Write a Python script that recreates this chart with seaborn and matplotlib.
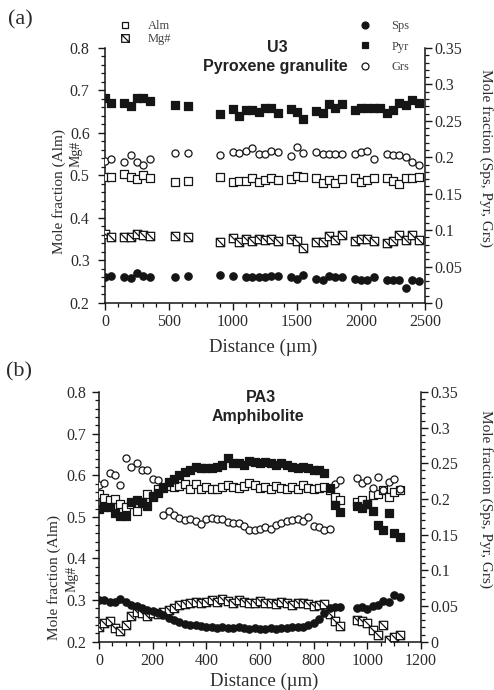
import numpy as np
import matplotlib
matplotlib.use("Agg")
import matplotlib.pyplot as plt
from matplotlib.path import Path
from matplotlib.markers import MarkerStyle
from matplotlib.lines import Line2D
from matplotlib.ticker import MultipleLocator, FuncFormatter
import seaborn as sns

nan = float("nan")

# ---------------- (a) U3 Pyroxene granulite ----------------
top_x = [0, 50, 150, 200, 250, 300, 350, 550, 650, 900, 1000, 1050, 1100, 1150,
         1200, 1250, 1300, 1350, 1450, 1500, 1550, 1650, 1700, 1750, 1800, 1850,
         1950, 2000, 2050, 2100, 2150, 2200, 2250, 2300, 2350, 2400, 2450]
top_alm = [0.497, 0.497, 0.503, 0.497, 0.491, 0.500, 0.493, 0.485, 0.487, 0.497,
           0.485, 0.487, 0.487, 0.493, 0.485, 0.489, 0.495, 0.489, 0.491, 0.499,
           0.497, 0.493, 0.483, 0.489, 0.482, 0.491, 0.493, 0.485, 0.489, 0.495,
           nan, 0.493, 0.487, 0.479, 0.493, 0.495, 0.497]
top_mg = [0.363, 0.355, 0.355, 0.356, 0.362, 0.360, 0.358, 0.358, 0.355, 0.343,
          0.353, 0.343, 0.350, 0.345, 0.350, 0.349, 0.350, 0.345, 0.350, 0.345,
          0.329, 0.343, 0.343, 0.358, 0.349, 0.360, 0.345, 0.350, 0.350, 0.346,
          nan, 0.341, 0.345, 0.360, 0.349, 0.360, 0.349]
top_pyr = [0.282, 0.274, 0.274, 0.271, 0.281, 0.281, 0.277, 0.272, 0.271, 0.259,
           0.266, 0.256, 0.265, 0.265, 0.262, 0.268, 0.268, 0.261, 0.266, 0.262,
           0.252, 0.263, 0.261, 0.273, 0.268, 0.273, 0.265, 0.267, 0.268, 0.268,
           0.268, 0.261, 0.265, 0.274, 0.272, 0.279, 0.275]
top_grs = [0.195, 0.198, 0.194, 0.203, 0.194, 0.190, 0.197, 0.206, 0.206, 0.203,
           0.207, 0.206, 0.209, 0.213, 0.205, 0.205, 0.209, 0.207, 0.202, 0.214,
           0.206, 0.207, 0.204, 0.204, 0.204, 0.205, 0.204, 0.207, 0.208, 0.197,
           nan, 0.204, 0.203, 0.203, 0.200, 0.194, 0.189]
top_sps = [0.035, 0.037, 0.036, 0.034, 0.041, 0.037, 0.036, 0.035, 0.037, 0.038,
           0.037, nan, 0.036, 0.036, 0.035, 0.036, 0.037, 0.037, 0.035, 0.033,
           0.038, 0.033, 0.032, 0.037, 0.035, 0.035, 0.033, 0.032, 0.032, 0.035,
           nan, 0.032, 0.031, 0.031, 0.021, 0.032, 0.030]

# ---------------- (b) PA3 Amphibolite ----------------
bot_x = [0, 20, 40, 60, 80, 100, 120, 140, 160, 180, 200, 220, 240, 260, 280, 300,
         320, 340, 360, 380, 400, 420, 440, 460, 480, 500, 520, 540, 560, 580, 600,
         620, 640, 660, 680, 700, 720, 740, 760, 780, 800, 820, 840, 860, 880, 900,
         960, 980, 1000, 1020, 1040, 1060, 1080, 1100, 1120]
bot_alm = [0.556, 0.546, 0.540, 0.542, 0.530, 0.524, 0.530, 0.514, 0.534, 0.556,
           0.550, 0.566, 0.570, 0.574, 0.572, 0.574, 0.578, 0.568, 0.578, 0.568,
           0.572, 0.568, 0.566, 0.572, 0.576, 0.572, 0.570, 0.574, 0.582, 0.576,
           0.570, 0.572, 0.568, 0.574, 0.570, 0.566, 0.572, 0.568, 0.576, 0.570,
           0.566, 0.570, 0.572, 0.564, 0.548, 0.540,
           0.536, 0.540, 0.532, 0.552, 0.556, 0.564, 0.548, 0.560, 0.564]
bot_mg = [0.235, 0.245, 0.250, 0.232, 0.225, 0.240, 0.262, 0.272, 0.268, 0.262,
          0.270, 0.266, 0.272, 0.276, 0.282, 0.288, 0.290, 0.292, 0.296, 0.292,
          0.296, 0.300, 0.296, 0.302, 0.298, 0.294, 0.300, 0.296, 0.292, 0.294,
          0.298, 0.292, 0.294, 0.290, 0.296, 0.292, 0.288, 0.292, 0.294, 0.290,
          0.286, 0.288, 0.290, 0.266, 0.250, 0.238,
          0.252, 0.250, 0.246, 0.228, 0.215, 0.240, 0.205, 0.212, 0.215]
bot_pyr = [0.186, 0.189, 0.189, 0.181, 0.176, 0.176, 0.196, 0.199, 0.196, 0.190,
           0.203, 0.209, 0.217, 0.224, 0.228, 0.234, 0.238, 0.241, 0.245, 0.243,
           0.243, 0.243, 0.245, 0.247, 0.257, 0.251, 0.250, 0.248, 0.253, 0.252,
           0.250, 0.252, 0.250, 0.248, 0.250, 0.247, 0.245, 0.243, 0.245, 0.243,
           0.240, 0.241, 0.236, 0.215, 0.192, 0.182,
           0.190, 0.188, 0.193, 0.183, 0.164, 0.157, 0.181, 0.152, 0.147]
bot_grs = [0.219, 0.223, 0.236, 0.233, 0.220, 0.257, 0.245, 0.250, 0.240, 0.240,
           0.228, 0.226, 0.178, 0.183, 0.177, 0.174, 0.171, 0.172, 0.169, 0.165,
           0.172, 0.173, 0.172, 0.172, 0.168, 0.167, 0.167, 0.162, 0.156, 0.156,
           0.158, 0.161, 0.158, 0.164, 0.166, 0.169, 0.171, 0.172, 0.169, 0.175,
           0.162, 0.161, 0.156, 0.158, 0.221, 0.226,
           0.229, 0.222, 0.226, 0.216, 0.231, 0.212, 0.224, 0.228, 0.214]
bot_sps = [0.058, 0.059, 0.055, 0.056, 0.060, 0.055, 0.052, 0.050, 0.047, 0.045,
           0.043, 0.040, 0.037, 0.033, 0.030, 0.027, 0.025, 0.024, 0.023, 0.022,
           0.020, 0.020, 0.019, 0.020, 0.019, 0.019, 0.020, 0.019, 0.018, 0.019,
           0.018, 0.018, 0.019, 0.018, 0.019, 0.019, 0.020, 0.020, 0.021, 0.024,
           0.026, 0.032, 0.040, 0.047, 0.049, 0.048,
           0.047, 0.048, 0.046, 0.050, 0.052, 0.057, 0.056, 0.066, 0.062]

left_ticks = [0.2, 0.3, 0.4, 0.5, 0.6, 0.7, 0.8]
right_ticks = [0, 0.05, 0.1, 0.15, 0.2, 0.25, 0.3, 0.35]

# ---------------- style ----------------
sns.set_style("ticks")
plt.rcParams["font.family"] = ["Liberation Serif", "DejaVu Serif"]
TXT = "#2b2b2b"
INK = "#151515"

# hatched square marker for Mg#
mg_path = Path([(-1, -1), (1, -1), (1, 1), (-1, 1), (-1, -1), (-1, 1), (1, -1)],
               [Path.MOVETO, Path.LINETO, Path.LINETO, Path.LINETO, Path.CLOSEPOLY,
                Path.MOVETO, Path.LINETO])
mg_marker = MarkerStyle(mg_path)

fig = plt.figure(figsize=(4.94, 6.90), dpi=100)
axA = fig.add_axes([0.2126, 0.5609, 0.6478, 0.3696])
axA2 = axA.twinx()
axB = fig.add_axes([0.2004, 0.0700, 0.6518, 0.3619])
axB2 = axB.twinx()


def draw(ax, ax2, x, alm, mg, pyr, grs, sps):
    kw = dict(ax=ax, legend=False, linewidth=0.9, zorder=3)
    sns.scatterplot(x=x, y=mg, marker=mg_marker, s=36, color="white",
                    edgecolor=INK, **kw)
    sns.scatterplot(x=x, y=alm, marker="s", s=26, color="white",
                    edgecolor=INK, **kw)
    kw2 = dict(ax=ax2, legend=False, linewidth=0.9, zorder=3)
    sns.scatterplot(x=x, y=grs, marker="o", s=26, color="white",
                    edgecolor=INK, **kw2)
    sns.scatterplot(x=x, y=pyr, marker="s", s=28, color=INK,
                    edgecolor=INK, **kw2)
    sns.scatterplot(x=x, y=sps, marker="o", s=28, color=INK,
                    edgecolor=INK, **kw2)


def style(ax, ax2, xmax, xmaj, xmin, ypad):
    ax.set_xlim(0, xmax)
    ax.set_ylim(0.2, 0.8)
    ax2.set_ylim(0, 0.35)
    ax.set_yticks(left_ticks)
    ax2.set_yticks(right_ticks)
    ax.xaxis.set_major_locator(MultipleLocator(xmaj))
    ax.xaxis.set_minor_locator(MultipleLocator(xmin))
    ax.yaxis.set_minor_locator(MultipleLocator(0.02))
    ax2.yaxis.set_minor_locator(MultipleLocator(0.01))
    ax.yaxis.set_major_formatter(FuncFormatter(lambda v, p: "%.1f" % v))
    ax2.yaxis.set_major_formatter(FuncFormatter(lambda v, p: "%g" % round(v, 3)))
    ax.xaxis.set_major_formatter(FuncFormatter(lambda v, p: "%d" % v))
    for a in (ax, ax2):
        a.set_xlabel("")
        a.set_ylabel("")
        a.spines["top"].set_visible(False)
        for s in a.spines.values():
            s.set_linewidth(1.1)
            s.set_color(INK)
        a.tick_params(which="major", direction="out", length=5, width=1.0,
                      color=INK, labelsize=11.5, labelcolor=TXT, pad=2)
        a.tick_params(which="minor", direction="out", length=3, width=0.9,
                      color=INK)
    ax.spines["right"].set_visible(False)
    ax2.spines["left"].set_visible(False)
    ax2.spines["bottom"].set_visible(False)
    ax.tick_params(axis="x", pad=3)
    ax.tick_params(axis="y", pad=ypad)


draw(axA, axA2, top_x, top_alm, top_mg, top_pyr, top_grs, top_sps)
style(axA, axA2, 2500, 500, 100, 6)
draw(axB, axB2, bot_x, bot_alm, bot_mg, bot_pyr, bot_grs, bot_sps)
style(axB, axB2, 1200, 200, 50, 4)

W, H = 494.0, 690.0


def ft(x, y, s, **k):
    k.setdefault("color", TXT)
    fig.text(x / W, 1 - y / H, s, ha=k.pop("ha", "center"),
             va=k.pop("va", "center"), **k)


# panel letters
ft(20, 20, "(a)", fontsize=16)
ft(19, 372, "(b)", fontsize=16)

# sample titles
sans = ["Liberation Sans", "DejaVu Sans"]
ft(277, 48, "U3", fontsize=11.5, fontweight="bold", family=sans, color="#222")
ft(275, 66, "Pyroxene granulite", fontsize=11.5, fontweight="bold", family=sans, color="#222")
ft(261, 397, "PA3", fontsize=11.5, fontweight="bold", family=sans, color="#222")
ft(258, 416, "Amphibolite", fontsize=11.5, fontweight="bold", family=sans, color="#222")

# axis labels
ft(263, 347, "Distance (\u00b5m)", fontsize=13.5)
ft(264, 681, "Distance (\u00b5m)", fontsize=13.5)
ft(59, 192, "Mole fraction (Alm)", fontsize=11, rotation=90)
ft(76, 154, "Mg#", fontsize=10, rotation=90)
ft(54, 578, "Mole fraction (Alm)", fontsize=11, rotation=90)
ft(72, 579, "Mg#", fontsize=10, rotation=90)
ft(486, 158, "Mole fraction (Sps, Pyr, Grs)", fontsize=11, rotation=270)
ft(486, 499, "Mole fraction (Sps, Pyr, Grs)", fontsize=11, rotation=270)

# legends
def h(marker, face, ms=5):
    return Line2D([], [], ls="", marker=marker, markerfacecolor=face,
                  markeredgecolor=INK, markeredgewidth=0.9, markersize=ms)

leg1 = fig.legend(handles=[h("s", "white"), h(mg_marker, "white", 5.5)],
                  labels=["Alm", "Mg#"], loc="upper left",
                  bbox_to_anchor=(119 / W, 1 - 20 / H), frameon=False,
                  fontsize=9, handlelength=1.0, handletextpad=1.3,
                  labelspacing=0.1, borderpad=0, borderaxespad=0,
                  labelcolor="#444")
leg2 = fig.legend(handles=[h("o", INK), h("s", INK), h("o", "white")],
                  labels=["Sps", "Pyr", "Grs"], loc="upper left",
                  bbox_to_anchor=(359 / W, 1 - 20 / H), frameon=False,
                  fontsize=9, handlelength=1.0, handletextpad=1.6,
                  labelspacing=0.7, borderpad=0, borderaxespad=0,
                  labelcolor="#444")

fig.savefig("out.png", dpi=100)
